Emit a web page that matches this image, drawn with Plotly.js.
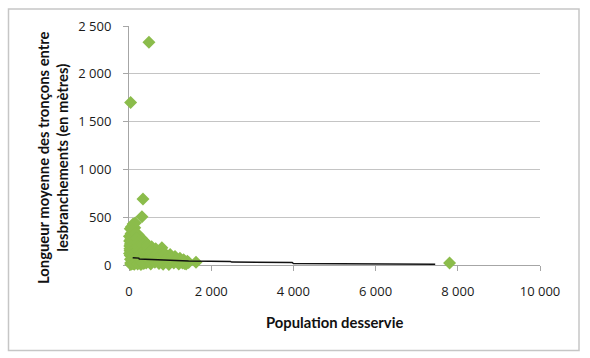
<!DOCTYPE html>
<html>
<head>
<meta charset="utf-8">
<script src="https://cdn.plot.ly/plotly-3.0.1.min.js"></script>
<style>html,body{margin:0;padding:0;background:#fff}#chart{width:590px;height:358px}</style>
</head>
<body>
<div id="chart"></div>
<script>
// Scatter points: population desservie (x) vs longueur moyenne (y, m)
var popX = [
  40, 485, 340, 315, 800, 1630, 7800, 100, 30, 60, 150,
  10, 15, 20, 25, 30, 35, 40, 45, 50, 55, 60, 65, 70, 75, 80, 85, 90, 95, 100, 105, 110, 115, 120, 125, 130, 140, 145, 150,
  12, 22, 32, 42, 52, 62, 72, 82, 92, 102, 112, 122, 132, 142,
  160, 170, 180, 190, 200, 210, 220, 230, 240, 250, 260, 270, 280, 290, 300, 310, 320, 330, 340, 350, 360, 370, 380, 390, 400, 410, 420,
  165, 185, 205, 225, 245, 265, 285, 305, 325, 345, 365, 385, 405,
  430, 450, 470, 490, 510, 530, 550, 570, 590, 610, 630, 650, 670, 690, 710, 730, 750, 770, 790, 810, 830,
  440, 480, 520, 560, 600, 640, 680, 720, 760,
  850, 880, 910, 940, 970, 1000, 1030, 1060, 1090, 1120, 1150, 1180, 1210, 1240, 1270, 1300, 1330, 1360, 1390, 1420, 1450,
  870, 930, 990, 1050, 1110, 1170, 1230, 1290, 1350
];
var longueurY = [
  1700, 2330, 690, 505, 180, 30, 22, 430, 380, 400, 440,
  300, 250, 200, 150, 100, 60, 20, 5, 330, 280, 230, 180, 130, 90, 50, 15, 360, 310, 260, 210, 160, 120, 70, 30, 8, 390, 340, 290,
  120, 170, 220, 270, 240, 190, 140, 110, 80, 40, 12, 350, 300, 250,
  240, 190, 140, 90, 45, 10, 320, 270, 220, 170, 120, 75, 30, 5, 280, 235, 185, 135, 90, 50, 15, 250, 200, 150, 100, 60, 20,
  330, 280, 230, 190, 150, 110, 70, 40, 20, 210, 160, 120, 80,
  220, 180, 130, 85, 40, 10, 190, 150, 110, 70, 30, 170, 130, 90, 50, 15, 150, 110, 70, 35, 8,
  200, 160, 140, 120, 90, 60, 110, 80, 40,
  130, 95, 60, 25, 5, 110, 80, 50, 20, 90, 60, 35, 10, 70, 45, 20, 55, 30, 10, 40, 25,
  110, 80, 70, 65, 40, 50, 30, 40, 15
];
// Moving-average trend line
var trendX = [90, 240, 250, 780, 800, 1420, 1450, 2470, 2500, 3970, 4000, 7450];
var trendY = [76, 72, 62, 55, 50, 45, 42, 36, 31, 26, 15, 8];

var xTitle = 'Population desservie';
var yTitle = 'Longueur moyenne des tronçons entre<br>lesbranchements (en mètres)';

var data = [
  {
    type: 'scatter', mode: 'markers', x: popX, y: longueurY,
    marker: {symbol: 'diamond', size: 10, color: '#8BBC4B', line: {width: 0}},
    cliponaxis: false, hoverinfo: 'x+y'
  },
  {
    type: 'scatter', mode: 'lines', x: trendX, y: trendY,
    line: {color: '#111111', width: 1.4}, cliponaxis: false, hoverinfo: 'skip'
  }
];

var tickFont = {family: '"Open Sans", Lato, sans-serif', size: 13, color: '#1a1a1a'};
var titleFont = {family: 'Lato, "Open Sans", sans-serif', size: 14.8, color: '#111111'};

var layout = {
  width: 590, height: 358,
  margin: {l: 129, r: 50, t: 26, b: 93, pad: 0},
  paper_bgcolor: '#ffffff', plot_bgcolor: '#ffffff',
  showlegend: false,
  separators: ', ',
  font: {family: 'Lato, "Open Sans", sans-serif', size: 13, color: '#1a1a1a'},
  xaxis: {
    range: [0, 10000], dtick: 2000, tick0: 0, tickformat: ',d',
    showgrid: false, zeroline: false, layer: 'below traces',
    showline: true, linecolor: '#a6a6a6', linewidth: 1,
    ticks: 'outside', ticklen: 5, tickcolor: '#a6a6a6', tickwidth: 1,
    ticklabelstandoff: 9,
    tickfont: tickFont
  },
  yaxis: {
    range: [0, 2500], dtick: 500, tick0: 0, tickformat: ',d',
    showgrid: true, gridcolor: '#c4c4c4', gridwidth: 1, zeroline: false, layer: 'below traces',
    showline: true, linecolor: '#a6a6a6', linewidth: 1,
    ticks: 'outside', ticklen: 5, tickcolor: '#a6a6a6', tickwidth: 1,
    ticklabelstandoff: 9,
    tickfont: tickFont
  },
  annotations: [
    {
      text: '<b>' + xTitle + '</b>', xref: 'paper', yref: 'paper',
      x: 0.5, y: (265 - 322) / 239, xanchor: 'center', yanchor: 'middle',
      showarrow: false, font: titleFont
    },
    {
      text: '<b>' + yTitle + '</b>', xref: 'paper', yref: 'paper',
      x: (52 - 129) / 411, y: (265 - 158) / 239, xanchor: 'center', yanchor: 'middle',
      textangle: -90, showarrow: false, font: titleFont
    }
  ],
  shapes: [
    {
      type: 'rect', xref: 'paper', yref: 'paper',
      x0: (8.5 - 129) / 411, x1: (579 - 129) / 411,
      y0: (265 - 350.5) / 239, y1: (265 - 9) / 239,
      line: {color: '#c6c6c6', width: 1.5}, fillcolor: 'rgba(0,0,0,0)', layer: 'below'
    }
  ]
};

Plotly.newPlot('chart', data, layout, {displayModeBar: false, staticPlot: true});
</script>
</body>
</html>
